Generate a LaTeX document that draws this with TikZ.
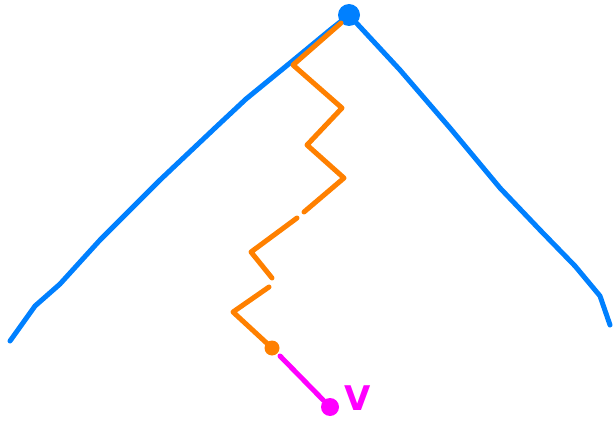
\documentclass[tikz,border=0pt]{standalone}
\usepackage{fontspec}
\setsansfont{DejaVu Sans}
\definecolor{pblue}{RGB}{0,128,255}
\definecolor{porange}{RGB}{255,128,0}
\definecolor{pmag}{RGB}{255,0,255}
\tikzset{
  stroke/.style={line width=5pt,line cap=round,line join=round},
  dotnode/.style={circle,inner sep=0pt,minimum size=#1},
}
\begin{document}
\begin{tikzpicture}[x=1pt,y=-1pt]
\useasboundingbox (0,0) rectangle (613,422);
% apex
\node[dotnode=22pt,fill=pblue] (apex) at (349,15) {};
% blue branches
\coordinate (lend) at (10,341);
\coordinate (rend) at (610,325);
\draw[stroke,pblue] (apex.center) -- (330,30) -- (290,63) -- (246,99) -- (215,128) -- (160,180) -- (100,240) -- (60,284) -- (35,306) -- (lend);
\draw[stroke,pblue] (apex.center) -- (400,70) -- (450,128) -- (500,188) -- (540,230) -- (575,266) -- (600,296) -- (rend);
% orange zigzag
\node[dotnode=15pt,fill=porange] (odot) at (272,348) {};
\coordinate (o1) at (293,65);
\coordinate (o2) at (342,108);
\coordinate (o3) at (307,145);
\coordinate (o4) at (344,178);
\coordinate (g1) at (304,212);
\coordinate (g2) at (297,218);
\coordinate (o5) at (251,252);
\coordinate (g3) at (272,278);
\coordinate (g4) at (269,287);
\coordinate (o6) at (233,312);
\draw[stroke,porange] (apex.center) ++(-8,8) -- (o1) -- (o2) -- (o3) -- (o4) -- (g1);
\draw[stroke,porange] (g2) -- (o5) -- (g3);
\draw[stroke,porange] (g4) -- (o6) -- (odot.center);
% magenta
\node[dotnode=18pt,fill=pmag] (mdot) at (330,407) {};
\draw[stroke,pmag] (odot) ++(8,8) -- (mdot);
\node[text=pmag,font=\sffamily\bfseries\fontsize{34}{34}\selectfont,anchor=west,inner sep=0pt] (vlab) at (344,398) {V};
\end{tikzpicture}
\end{document}
